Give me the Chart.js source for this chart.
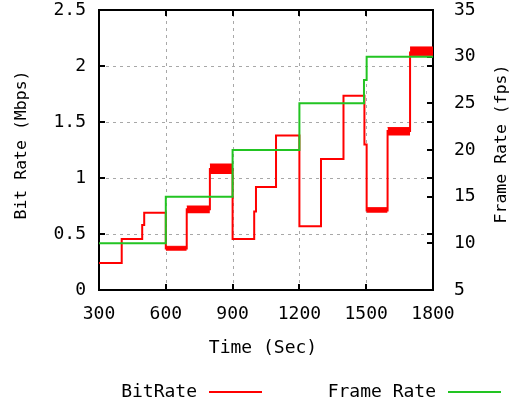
<!DOCTYPE html>
<html><head><meta charset="utf-8">
<script src="https://cdn.jsdelivr.net/npm/chart.js@4.4.1/dist/chart.umd.min.js"></script>
<style>html,body{margin:0;padding:0;background:#fff;}#wrap{width:510px;height:406px;position:relative}</style>
</head><body><div id="wrap"><canvas id="c" width="510" height="406"></canvas></div>
<script>
// ---- data ----
const xTickValues = [300, 600, 900, 1200, 1500, 1800];
const bitTime = [300, 402, 494, 503, 600, 694, 798, 900, 997, 1005, 1095, 1200, 1297, 1398, 1492, 1502, 1596, 1697, 1800];
const bitRate = [0.24, 0.455, 0.58, 0.69, 0.37, 0.72, 1.08, 0.455, 0.70, 0.92, 1.38, 0.57, 1.17, 1.735, 1.30, 0.71, 1.42, 2.12, 2.12];
const fpsTime = [300, 600, 900, 1200, 1490, 1502, 1800];
const fpsValue = [10, 15, 20, 25, 27.5, 30, 30];
// fluctuation bands of the bit rate (rapid jitter within a step)
const jitterStart = [600, 694, 798, 1502, 1596, 1697];
const jitterEnd = [694, 798, 900, 1596, 1697, 1800];
const jitterLow = [0.35, 0.685, 1.035, 0.69, 1.38, 2.09];
const jitterHigh = [0.39, 0.75, 1.125, 0.735, 1.45, 2.17];

const RED = '#ff0000', GREEN = '#22c422';
const FONT = 'DejaVu Sans Mono';

const datasets = [];
datasets.push({
  label: 'BitRate', yAxisID: 'y', borderColor: RED, backgroundColor: RED,
  borderWidth: 2, pointRadius: 0, stepped: 'before', fill: false, order: 2,
  data: bitTime.map((t, i) => ({x: t, y: bitRate[i]}))
});
jitterStart.forEach((s, i) => {
  datasets.push({
    label: '_jitter', yAxisID: 'y', borderColor: RED, backgroundColor: RED,
    borderWidth: 1, pointRadius: 0, fill: {value: jitterLow[i]}, order: 2,
    data: [{x: s, y: jitterHigh[i]}, {x: jitterEnd[i], y: jitterHigh[i]}]
  });
});
datasets.push({
  label: 'Frame Rate', yAxisID: 'y2', borderColor: GREEN, backgroundColor: GREEN,
  borderWidth: 2, pointRadius: 0, stepped: 'before', fill: false, order: 1,
  data: fpsTime.map((t, i) => ({x: t, y: fpsValue[i]}))
});

const framePlugin = {
  id: 'frame',
  beforeDatasetsDraw(chart) {
    const {ctx, chartArea: a, scales} = chart;
    ctx.save();
    // dashed grid
    ctx.strokeStyle = '#a8a8a8'; ctx.lineWidth = 1; ctx.setLineDash([3, 4]);
    scales.x.ticks.forEach(t => {
      if (t.value <= scales.x.min || t.value >= scales.x.max) return;
      const px = Math.round(scales.x.getPixelForValue(t.value)) + 0.5;
      ctx.beginPath(); ctx.moveTo(px, a.bottom); ctx.lineTo(px, a.top); ctx.stroke();
    });
    scales.y.ticks.forEach(t => {
      if (t.value <= scales.y.min || t.value >= scales.y.max) return;
      const py = Math.round(scales.y.getPixelForValue(t.value)) + 0.5;
      ctx.beginPath(); ctx.moveTo(a.left, py); ctx.lineTo(a.right, py); ctx.stroke();
    });
    ctx.setLineDash([]);
    // frame
    ctx.strokeStyle = '#000'; ctx.lineWidth = 2;
    ctx.strokeRect(a.left, a.top, a.right - a.left, a.bottom - a.top);
    // inward tick marks
    const L = 6;
    ctx.lineWidth = 2;
    ctx.beginPath();
    scales.x.ticks.forEach(t => {
      const px = Math.round(scales.x.getPixelForValue(t.value));
      ctx.moveTo(px, a.bottom); ctx.lineTo(px, a.bottom - L);
      ctx.moveTo(px, a.top); ctx.lineTo(px, a.top + L);
    });
    scales.y.ticks.forEach(t => {
      const py = Math.round(scales.y.getPixelForValue(t.value));
      ctx.moveTo(a.left, py); ctx.lineTo(a.left + L, py);
      ctx.moveTo(a.right, py); ctx.lineTo(a.right - L, py);
    });
    scales.y2.ticks.forEach(t => {
      const py = Math.round(scales.y2.getPixelForValue(t.value));
      ctx.moveTo(a.right, py); ctx.lineTo(a.right - L, py);
    });
    ctx.stroke();
    ctx.restore();
  },
  afterDraw(chart) {
    const {ctx, chartArea: a, scales} = chart;
    ctx.save();
    ctx.fillStyle = '#000';
    ctx.textAlign = 'center'; ctx.textBaseline = 'middle';
    // axis titles
    ctx.font = '16.5px "' + FONT + '"';
    ctx.save(); ctx.translate(22, (a.top + a.bottom) / 2 - 5); ctx.rotate(-Math.PI / 2);
    ctx.fillText(scales.y.options.title.text, 0, 0); ctx.restore();
    ctx.save(); ctx.translate(502, (a.top + a.bottom) / 2 - 6); ctx.rotate(-Math.PI / 2);
    ctx.fillText(scales.y2.options.title.text, 0, 0); ctx.restore();
    ctx.font = '18px "' + FONT + '"';
    ctx.fillText(scales.x.options.title.text, (a.left + a.right) / 2 - 3, 348);
    // legend (text then sample line)
    const items = chart.data.datasets.filter(d => !d.label.startsWith('_'));
    const lineStarts = [209, 448];
    items.forEach((d, i) => {
      const x0 = lineStarts[i];
      ctx.textAlign = 'right';
      ctx.fillText(d.label, x0 - 12, 392);
      ctx.strokeStyle = d.borderColor; ctx.lineWidth = 2;
      ctx.beginPath(); ctx.moveTo(x0, 392); ctx.lineTo(x0 + 53, 392); ctx.stroke();
    });
    ctx.restore();
  }
};

const tickFont = {family: FONT, size: 18};
const plain = v => String(v);
new Chart(document.getElementById('c'), {
  type: 'line',
  data: {datasets},
  plugins: [framePlugin],
  options: {
    responsive: false, animation: false, devicePixelRatio: 1,
    layout: {padding: {top: 10, left: 0, right: 0, bottom: 0}},
    plugins: {legend: {display: false}, tooltip: {enabled: false}},
    scales: {
      x: {
        type: 'linear', min: 300, max: 1800,
        afterBuildTicks: s => { s.ticks = xTickValues.map(v => ({value: v})); },
        grid: {display: false, drawTicks: false}, border: {display: false},
        ticks: {font: tickFont, color: '#000', padding: 14, maxRotation: 0, autoSkip: false, callback: plain},
        title: {display: false, text: 'Time (Sec)'},
        afterFit: s => { s.height = 116; s.paddingLeft = 0; s.paddingRight = 0; }
      },
      y: {
        position: 'left', min: 0, max: 2.5,
        ticks: {stepSize: 0.5, font: tickFont, color: '#000', padding: 13, callback: plain},
        grid: {display: false, drawTicks: false}, border: {display: false},
        title: {display: false, text: 'Bit Rate (Mbps)'},
        afterFit: s => { s.width = 99; s.paddingTop = 0; s.paddingBottom = 0; }
      },
      y2: {
        position: 'right', min: 5, max: 35,
        ticks: {stepSize: 5, font: tickFont, color: '#000', padding: 21, callback: plain},
        grid: {display: false, drawTicks: false}, border: {display: false},
        title: {display: false, text: 'Frame Rate (fps)'},
        afterFit: s => { s.width = 77; s.paddingTop = 0; s.paddingBottom = 0; }
      }
    }
  }
});
</script></body></html>
